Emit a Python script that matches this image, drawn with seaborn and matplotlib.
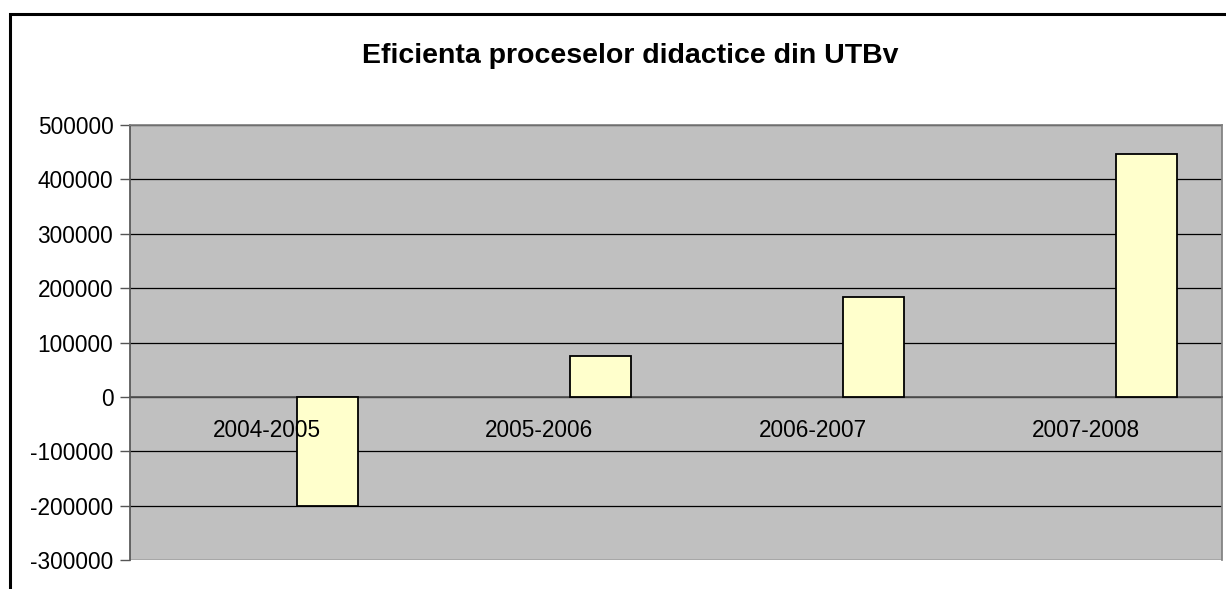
import matplotlib
matplotlib.use("Agg")
import matplotlib.pyplot as plt
import matplotlib.ticker as mticker
import matplotlib.transforms as mtransforms
from matplotlib.patches import Rectangle
import pandas as pd
import seaborn as sns

# date
years = ["2004-2005", "2005-2006", "2006-2007", "2007-2008"]
efficiency = [-200000, 75000, 183000, 447000]
series_slots = ["s1", "s2", "s3"]   # grupare Excel: doar a treia serie are valori
y_ticks = [-300000, -200000, -100000, 0, 100000, 200000, 300000, 400000, 500000]

df = pd.DataFrame({"an": years, "valoare": efficiency, "serie": "s3"})

sns.set_theme(style="white")
plt.rcParams["font.family"] = ["Liberation Sans", "DejaVu Sans"]
plt.rcParams["text.color"] = "black"
plt.rcParams["xtick.color"] = "black"
plt.rcParams["ytick.color"] = "black"

fig = plt.figure(figsize=(12.26, 5.89), dpi=100)
ax = fig.add_axes([130 / 1226, 29 / 589, 1092 / 1226, 435 / 589])
ax.set_facecolor("#C0C0C0")

sns.barplot(
    data=df, x="an", y="valoare", hue="serie", hue_order=series_slots,
    order=years, palette=["#FFFFCC"] * 3, width=0.667, dodge=True,
    edgecolor="black", linewidth=1.3, saturation=1, legend=False, ax=ax,
    zorder=3,
)

ax.set_ylim(-300000, 500000)
ax.set_xlim(-0.5, 3.5)
ax.set_yticks(y_ticks)
ax.yaxis.set_major_formatter(mticker.FuncFormatter(lambda v, p: f"{int(v)}"))
ax.yaxis.grid(True, color="black", linewidth=0.9, zorder=1)
ax.set_axisbelow(True)

# axa X trece prin 0, cu gradatii intre categorii
ax.spines["bottom"].set_position(("data", 0))
ax.spines["bottom"].set_color("#555555")
for s in ["top", "right"]:
    ax.spines[s].set_color("#808080")
ax.spines["left"].set_color("#555555")
ax.set_xticks([-0.5, 0.5, 1.5, 2.5, 3.5])
ax.set_xticklabels([])
ax.tick_params(axis="x", which="major", direction="out", length=7, width=1, color="#555555")
ax.tick_params(axis="y", direction="out", length=7, width=1, color="#555555",
               labelsize=16.3, pad=5, left=True)
ax.set_xlabel("")
ax.set_ylabel("")

# etichetele categoriilor, desenate peste bare (ca in Excel)
lbl_tr = mtransforms.offset_copy(ax.transData, fig=fig, y=-34, units="dots")
for i, yr in enumerate(years):
    ax.text(i, 0, yr, transform=lbl_tr, ha="center", va="center",
            fontsize=16.3, color="black", zorder=6)

fig.text(630 / 1226, 1 - 56 / 589, "Eficienta proceselor didactice din UTBv",
         ha="center", va="center", fontsize=20.5, fontweight="bold")

# chenarul diagramei (taiat la dreapta si jos)
fig.patches.append(Rectangle((9.5 / 1226, -0.2), 1.5, 1.2 - 13.5 / 589,
                             transform=fig.transFigure, fill=False,
                             edgecolor="black", linewidth=2.2))

fig.savefig("out.png", dpi=100)
